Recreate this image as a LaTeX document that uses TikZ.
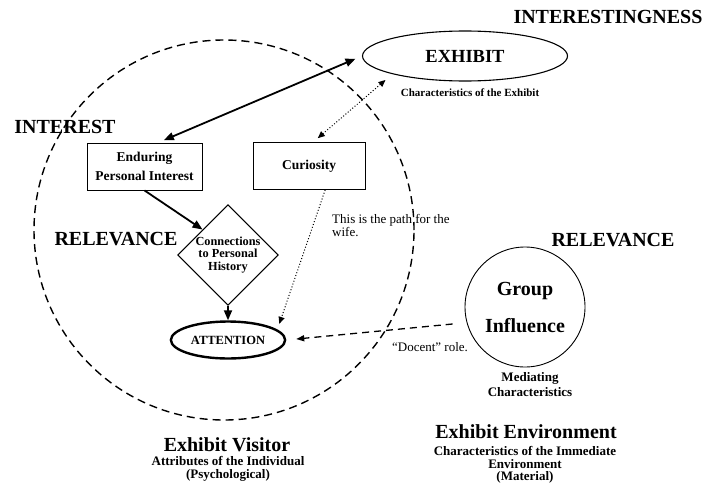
\documentclass[tikz,border=0pt]{standalone}
\usepackage{fontspec}
\setmainfont{Liberation Serif}
\usetikzlibrary{arrows.meta,shapes.geometric}
\tikzset{
	heading/.style={font=\bfseries\fontsize{20}{22}\selectfont, inner sep=0},
	note/.style={font=\bfseries\fontsize{13}{12.5}\selectfont, align=center, inner sep=0},
	remark/.style={font=\fontsize{13}{13}\selectfont, inner sep=0},
	box/.style={draw, line width=0.9pt, minimum height=47pt, align=center, font=\bfseries\fontsize{13.5}{19}\selectfont},
	solidarrow/.style={line width=1.8pt, -{Triangle[length=10pt,width=8pt]}},
	dottedarrow/.style={line width=1pt, dash pattern=on 1pt off 2pt, -{Triangle[length=7pt,width=6pt]}},
	dashedarrow/.style={line width=1.3pt, dash pattern=on 7pt off 5pt, -{Triangle[length=8pt,width=6pt]}}
}
\begin{document}
\begin{tikzpicture}[x=1pt,y=-1pt]
	%%%%% START %%%%%
	\useasboundingbox (0,0) rectangle (708,487);
	
	\node[draw, circle, line width=1.4pt, dash pattern=on 8pt off 5pt, minimum size=380pt, inner sep=0] (visitorzone) at (224,230) {};
	
	\node[heading] (interestingness) at (608,17) {INTERESTINGNESS};
	\node[draw, ellipse, line width=1.1pt, minimum width=205pt, minimum height=50pt, font=\bfseries\fontsize{18.5}{20}\selectfont] (exhibit) at (465,56) {EXHIBIT};
	\node[note, font=\bfseries\fontsize{11}{12}\selectfont] (exhibitnote) at (470,93) {Characteristics of the Exhibit};
	
	\node[heading] (interest) at (65,127) {INTEREST};
	\node[box, minimum width=115pt] (enduring) at (144.5,166.5) {Enduring\\Personal Interest};
	\node[box, minimum width=112pt] (curiosity) at (309,166) {Curiosity};
	
	\node[heading] (relevancevisitor) at (116,239) {RELEVANCE};
	\node[draw, diamond, line width=1.2pt, inner sep=0, align=center, font=\bfseries\fontsize{12.3}{12.3}\selectfont] (connections) at (228,255) {Connections\\to Personal\\History};
	\node[draw, ellipse, line width=2.4pt, minimum width=104pt, minimum height=37pt, font=\bfseries\fontsize{12.5}{14}\selectfont] (attention) at (228,340) {ATTENTION};
	\node[remark, anchor=west, align=left] (wifenote) at (332,226) {This is the path for the\\wife.};
	
	\node[heading] (relevancegroup) at (613,240) {RELEVANCE};
	\node[draw, circle, line width=0.9pt, minimum size=120pt, inner sep=0, align=center, font=\bfseries\fontsize{20}{37}\selectfont] (group) at (525,307) {Group\\Influence};
	\node[note, font=\bfseries\fontsize{13}{15}\selectfont] (mediating) at (530,385) {Mediating\\Characteristics};
	\node[remark] (docent) at (430,347) {``Docent'' role.};
	
	\node[heading] (visitor) at (227,445) {Exhibit Visitor};
	\node[note] (visitornote) at (228,469) {Attributes of the Individual\\(Psychological)};
	\node[heading] (environment) at (526,432) {Exhibit Environment};
	\node[note] (environmentnote) at (525,465) {Characteristics of the Immediate\\Environment\\(Material)};
	
	\draw[solidarrow, {Triangle[length=10pt,width=8pt]}-{Triangle[length=10pt,width=8pt]}, shorten <=6pt, shorten >=7pt] (enduring.60) -- (exhibit.west);
	\draw[dottedarrow, {Triangle[length=7pt,width=6pt]}-{Triangle[length=7pt,width=6pt]}, shorten <=9pt, shorten >=6pt] (exhibit.194) -- (curiosity.80);
	\draw[solidarrow] (enduring.south) -- (connections.north west);
	\draw[solidarrow] (connections.south) -- (attention.north);
	\draw[dottedarrow, shorten >=6pt] (curiosity.-56) -- (attention.12);
	\draw[dashedarrow, shorten <=14pt, shorten >=10pt] (group.195) -- (attention.east);
	
	%%%%% END %%%%%
\end{tikzpicture}
\end{document}
